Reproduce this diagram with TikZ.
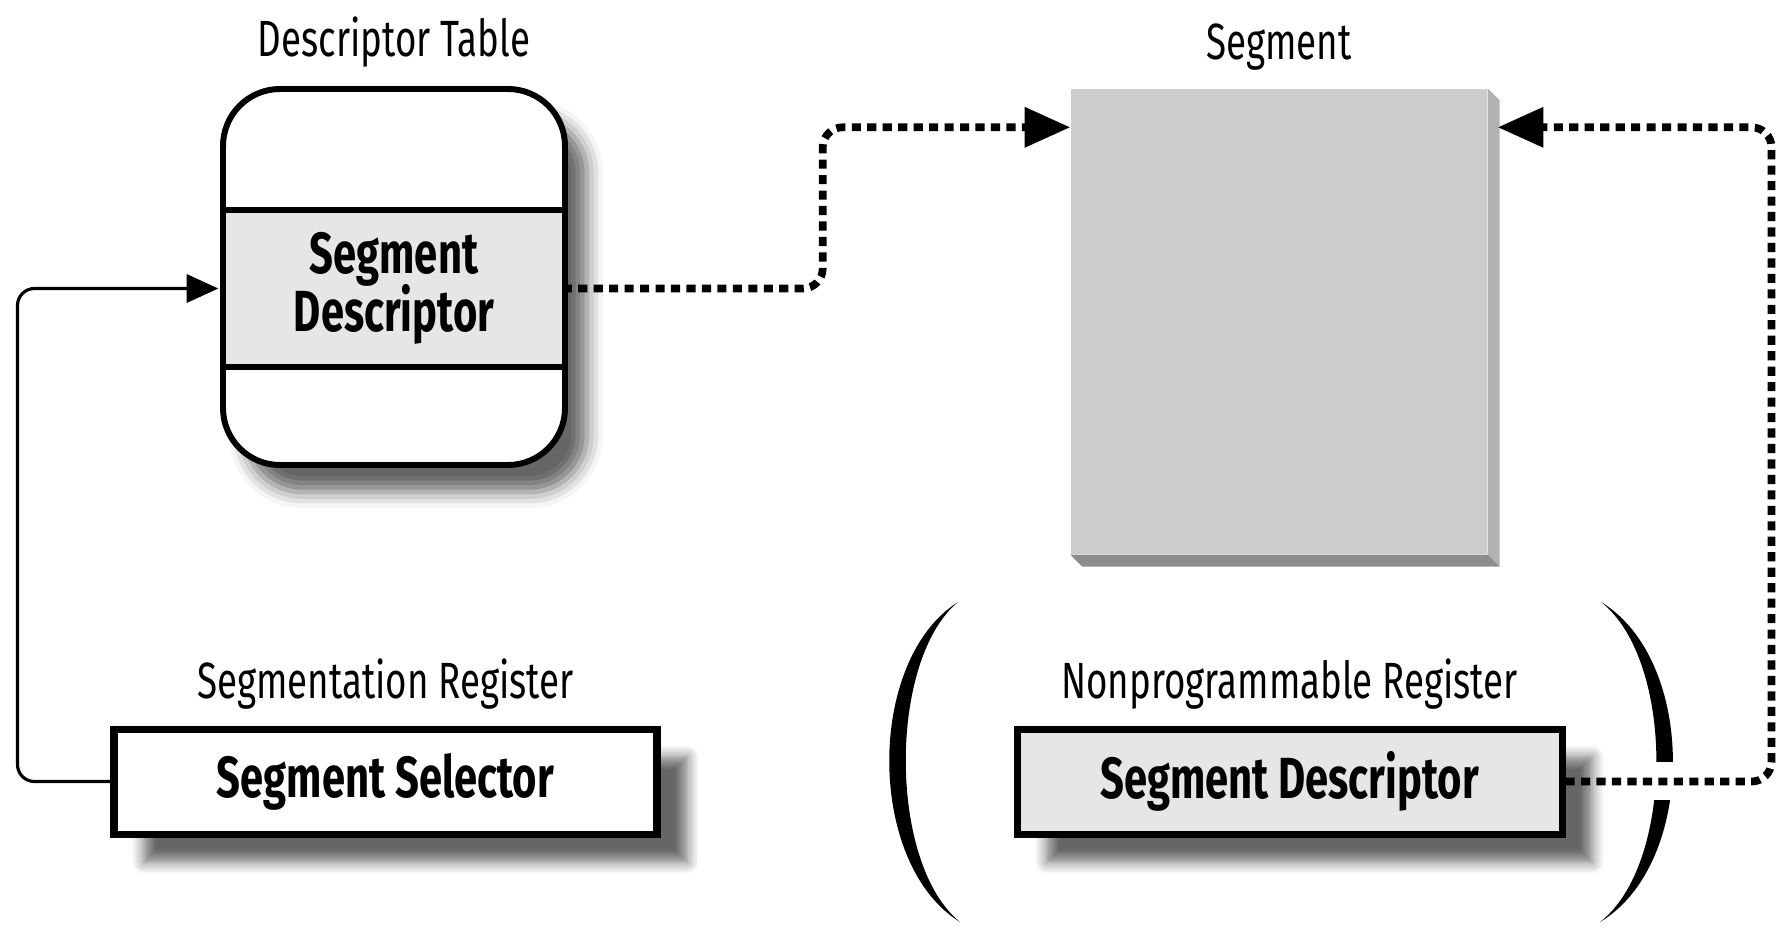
\documentclass[tikz,border=0pt]{standalone}
\usepackage{fontspec}
\setmainfont{Fira Sans}[FakeStretch=0.72]
\usepackage{xcolor}
\usepackage{tikz}
\usetikzlibrary{arrows.meta, positioning, shadows.blur}
\definecolor{entry}{RGB}{230,230,230}
\definecolor{segfront}{RGB}{204,204,204}
\definecolor{segside}{RGB}{178,178,178}
\definecolor{segbottom}{RGB}{141,141,141}
\newcommand{\titlesize}{\fontsize{14.5}{16}\selectfont}
\newcommand{\cellsize}{\fontsize{16.5}{14.5}\selectfont\bfseries}

\begin{document}
\begin{tikzpicture}[
        regbox/.style={draw, line width=2pt, minimum width=5.45cm, minimum height=1.05cm, font=\cellsize,
            blur shadow={shadow xshift=0.3cm, shadow yshift=-0.28cm, shadow blur radius=0.12cm, shadow blur steps=6, shadow opacity=60}},
        dotlink/.style={line width=2.2pt, dash pattern=on 2.6pt off 1.8pt, rounded corners=0.2cm, -{Triangle[length=13pt, width=11pt]}},
        solidlink/.style={line width=0.9pt, rounded corners=0.17cm, -{Triangle[length=9pt, width=8pt]}}
    ]
            \useasboundingbox (0,0) rectangle (17.82,-9.38);

            \node (descriptor_table) [draw, line width=1.7pt, rounded corners=0.57cm, fill=white, minimum width=3.42cm, minimum height=3.76cm,
                blur shadow={shadow xshift=0.22cm, shadow yshift=-0.27cm, shadow blur radius=0.16cm, shadow opacity=60}] at (3.94,-2.77) {};
            \node (table_entry) [fill=entry, minimum width=3.36cm, minimum height=1.55cm, align=center, font=\cellsize] at (3.94,-2.885) {Segment\\[-1.5pt] Descriptor};
            \draw [line width=1.7pt] (table_entry.north west) -- (table_entry.north east);
            \draw [line width=1.7pt] (table_entry.south west) -- (table_entry.south east);
            \node (table_title) [above=0.06cm of descriptor_table, font=\titlesize] {Descriptor Table};

            \node (segment) [fill=segfront, minimum width=4.16cm, minimum height=4.65cm] at (12.79,-3.215) {};
            \fill [segside] (segment.north east) -- ++(0.12,-0.12) -- ([shift={(0.12,-0.12)}]segment.south east) -- (segment.south east) -- cycle;
            \fill [segbottom] (segment.south west) -- ++(0.12,-0.12) -- ([shift={(0.12,-0.12)}]segment.south east) -- (segment.south east) -- cycle;
            \node (segment_title) [above=0.06cm of segment, font=\titlesize] {Segment};

            \node (selector) [regbox, minimum width=5.43cm, fill=white] at (3.855,-7.815) {Segment Selector};
            \node (selector_title) [above=0.04cm of selector, font=\titlesize] {Segmentation Register};

            \node (hidden_desc) [regbox, fill=entry] at (12.895,-7.815) {Segment Descriptor};
            \node (hidden_title) [above=0.04cm of hidden_desc, font=\titlesize] {Nonprogrammable Register};

            \fill (9.58,-6.02) .. controls (8.66,-6.6) and (8.66,-8.64) .. (9.6,-9.22) .. controls (8.88,-8.64) and (8.88,-6.6) .. cycle;
            \fill (16.01,-6.02) .. controls (16.97,-6.6) and (16.97,-8.64) .. (16.0,-9.22) .. controls (16.75,-8.64) and (16.75,-6.6) .. cycle;
            \fill [white] (16.5,-7.62) rectangle (16.85,-8.0);

            \draw [solidlink] (selector.west) -- ++(-0.93,0) |- ([xshift=-0.07cm]table_entry.west);
            \draw [dotlink] (table_entry.east) -- ++(2.6,0) |- ([yshift=-0.39cm]segment.north west);
            \draw [dotlink] (hidden_desc.east) -- ++(2.06,0) |- ([xshift=0.1cm, yshift=-0.39cm]segment.north east);
\end{tikzpicture}
\end{document}
